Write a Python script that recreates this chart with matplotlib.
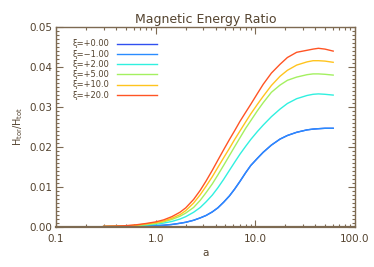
import numpy as np
import matplotlib
matplotlib.use('Agg')
import matplotlib.pyplot as plt
from matplotlib.ticker import FixedLocator, MultipleLocator, LogLocator, NullFormatter

# values
a = [0.3, 0.4, 0.5, 0.65, 0.8, 1.0, 1.2, 1.45, 1.75, 2.0, 2.4, 2.8, 3.2, 3.7, 4.2, 4.8,
     5.5, 6.2, 7.0, 8.0, 9.0, 10.5, 12.0, 14.5, 17.7, 21.0, 26.0, 33.0, 38.0, 43.0, 50.0, 60.5]

xi_labels = ['ξ=+0.00', 'ξ=−1.00', 'ξ=+2.00', 'ξ=+5.00', 'ξ=+10.0', 'ξ=+20.0']

ratio_0 = [.00002, .00004, .00006, .00011, .00018, .00026, .00036, .00055, .00085, .0011, .0016,
           .0022, .0028, .0037, .0047, .0061, .0077, .0094, .0113, .0135, .0153, .0171, .0186,
           .0204, .0219, .0228, .0236, .0242, .0244, .0245, .0246, .0246]
ratio_m1 = [.00002, .00004, .00006, .00011, .00018, .00026, .00036, .00055, .00085, .0011, .0016,
            .0022, .0028, .0037, .0047, .0061, .0077, .0094, .0113, .0135, .0153, .0171, .0186,
            .0204, .0219, .0228, .0236, .0242, .0244, .0245, .0246, .0246]
ratio_2 = [.00004, .00008, .00012, .00024, .0004, .0006, .0009, .0013, .0019, .0025, .0036,
           .0048, .0062, .0079, .0097, .0118, .0141, .0161, .0181, .0201, .0218, .0238, .0254,
           .0275, .0294, .0308, .0320, .0328, .0331, .0332, .0331, .0329]
ratio_5 = [.00006, .0001, .00016, .0003, .0005, .0008, .0012, .0018, .0026, .0034, .0048,
           .0066, .0085, .0107, .0129, .0153, .0178, .0200, .0222, .0246, .0265, .0290, .0310,
           .0336, .0354, .0366, .0374, .0380, .0382, .0382, .0381, .0379]
ratio_10 = [.00008, .00013, .0002, .0004, .0007, .0010, .0014, .0021, .0030, .0040, .0059,
            .0080, .0101, .0125, .0148, .0172, .0196, .0218, .0239, .0262, .0282, .0306, .0326,
            .0353, .0376, .0391, .0404, .0412, .0415, .0415, .0414, .0411]
ratio_20 = [.0001, .00016, .00025, .0005, .0008, .0012, .0017, .0025, .0036, .0047, .0068,
            .0091, .0114, .0141, .0166, .0192, .0218, .0240, .0263, .0286, .0306, .0333, .0356,
            .0384, .0406, .0423, .0436, .0441, .0444, .0446, .0444, .0439]

series = [ratio_0, ratio_m1, ratio_2, ratio_5, ratio_10, ratio_20]
colors = ['#3050f0', '#2a8cff', '#30f0e0', '#a4f060', '#ffc41e', '#ff5424']

txt = '#54432f'
axc = '#7d6a52'

plt.rcParams['font.family'] = 'DejaVu Sans'

fig = plt.figure(figsize=(3.74, 2.67), dpi=100)
ax = fig.add_axes([0.150, 0.151, 0.799, 0.749])

for ys, c, lab in zip(series, colors, xi_labels):
    ax.plot(a, ys, color=c, lw=1.0, label=lab)

ax.set_xscale('log')
ax.set_xlim(0.1, 100)
ax.set_ylim(0, 0.05)

ax.xaxis.set_major_locator(FixedLocator([0.1, 1, 10, 100]))
ax.set_xticklabels(['0.1', '1.0', '10.0', '100.0'])
ax.xaxis.set_minor_locator(LogLocator(base=10, subs=np.arange(2, 10)))
ax.xaxis.set_minor_formatter(NullFormatter())
ax.yaxis.set_major_locator(MultipleLocator(0.01))
ax.yaxis.set_minor_locator(MultipleLocator(0.001))
ax.yaxis.set_major_formatter(plt.FormatStrFormatter('%.2f'))

ax.tick_params(which='both', direction='in', top=True, right=True, color=axc,
               labelcolor=txt, labelsize=7.5, width=0.8)
ax.tick_params(which='major', length=5)
ax.tick_params(which='minor', length=2.5)
ax.tick_params(axis='x', pad=5)
ax.tick_params(axis='y', pad=2.5)

for s in ax.spines.values():
    s.set_color(axc)
    s.set_linewidth(1.0)
ax.spines['bottom'].set_linewidth(1.6)

ax.set_title('Magnetic Energy Ratio', color=txt, fontsize=9, pad=3)
ax.set_xlabel('a', color=txt, fontsize=7.5, labelpad=3)
ax.set_ylabel(r'H$_{\rm tor}$/H$_{\rm tot}$', color=txt, fontsize=7, labelpad=3)

leg = ax.legend(loc='upper left', frameon=False, markerfirst=False, fontsize=6,
                handlelength=4.9, handletextpad=0.8, labelspacing=0.15,
                borderaxespad=0.0, bbox_to_anchor=(0.045, 0.953))
for t in leg.get_texts():
    t.set_color(txt)

fig.savefig('out.png', dpi=100)
